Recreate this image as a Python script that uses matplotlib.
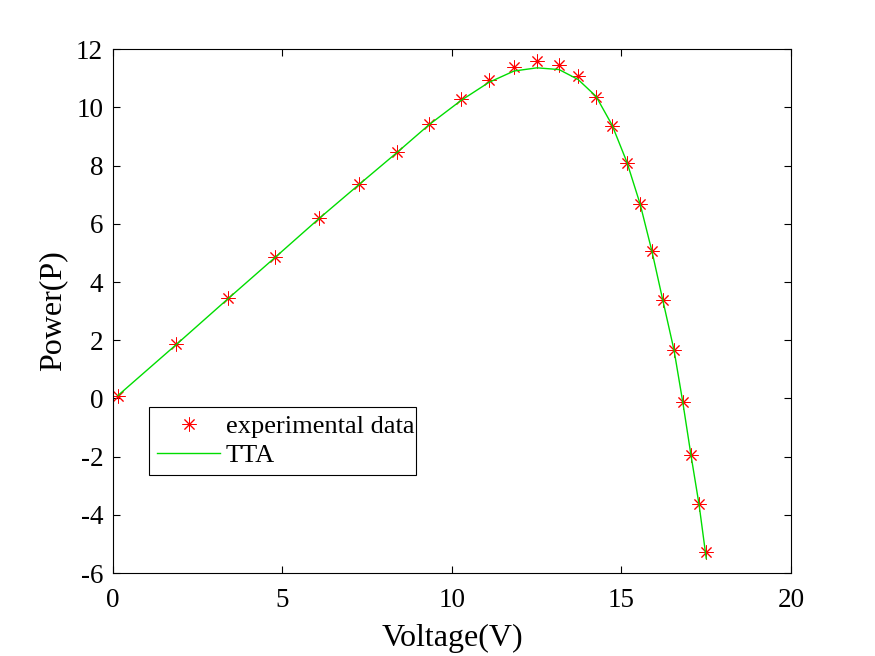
import numpy as np
import matplotlib.pyplot as plt

# data
voltage = [0.15, 1.86, 3.39, 4.78, 6.08, 7.26, 8.38, 9.32, 10.27, 11.09, 11.83,
           12.51, 13.16, 13.72, 14.25, 14.72, 15.16, 15.55, 15.90, 16.22, 16.55,
           16.81, 17.05, 17.29, 17.49]
power_exp = [0.10, 1.86, 3.44, 4.85, 6.19, 7.36, 8.46, 9.42, 10.28, 10.93, 11.38,
             11.59, 11.45, 11.07, 10.35, 9.35, 8.08, 6.67, 5.06, 3.37, 1.66,
             -0.13, -1.95, -3.64, -5.29]

tta_v = [0.15, 1.86, 3.39, 4.78, 6.08, 7.26, 8.38, 9.32, 10.27, 11.09, 11.83,
         12.51, 13.16, 13.72, 14.25, 14.72, 15.16, 15.55, 15.90, 16.22, 16.55,
         16.81, 17.05, 17.29, 17.50]
tta_p = [0.10, 1.84, 3.42, 4.84, 6.18, 7.35, 8.45, 9.40, 10.24, 10.86, 11.25,
         11.36, 11.30, 10.96, 10.38, 9.40, 8.12, 6.68, 5.05, 3.37, 1.66,
         -0.14, -1.95, -3.66, -5.50]

plt.rcParams['font.family'] = ['Liberation Serif', 'DejaVu Serif']
plt.rcParams['axes.unicode_minus'] = False

fig = plt.figure(figsize=(8.75, 6.56), dpi=100)
ax = fig.add_axes([0.129, 0.1265, 0.775, 0.7985])

ax.plot(voltage, power_exp, linestyle='none', marker=(8, 2, 0), markersize=10,
        markeredgecolor='red', markeredgewidth=0.7, color='red',
        label='experimental data')
ax.plot(tta_v, tta_p, color='#00dd00', linewidth=1.0, label='TTA')

ax.set_xlim(0, 20)
ax.set_ylim(-6, 12)
ax.set_xticks(np.arange(0, 21, 5))
ax.set_yticks(np.arange(-6, 13, 2))
ax.tick_params(direction='in', labelsize=19.5, length=5, width=0.8,
               top=True, right=True, labeltop=False, labelright=False)
ax.tick_params(axis='x', pad=11)
ax.tick_params(axis='y', pad=7)
for s in ax.spines.values():
    s.set_linewidth(0.8)

ax.set_xlabel('Voltage(V)', fontsize=23, labelpad=8)
ax.set_ylabel('Power(P)', fontsize=23, labelpad=6)

leg = ax.legend(loc='lower left', bbox_to_anchor=(0.0535, 0.187, 0.394, 0.125),
                mode='expand', fontsize=19, fancybox=False, framealpha=1,
                edgecolor='black', borderpad=0.3, handlelength=2.4,
                handletextpad=0.2, labelspacing=0.2, borderaxespad=0)
leg.get_frame().set_linewidth(0.8)

fig.savefig('out.png', dpi=100, facecolor='white')
